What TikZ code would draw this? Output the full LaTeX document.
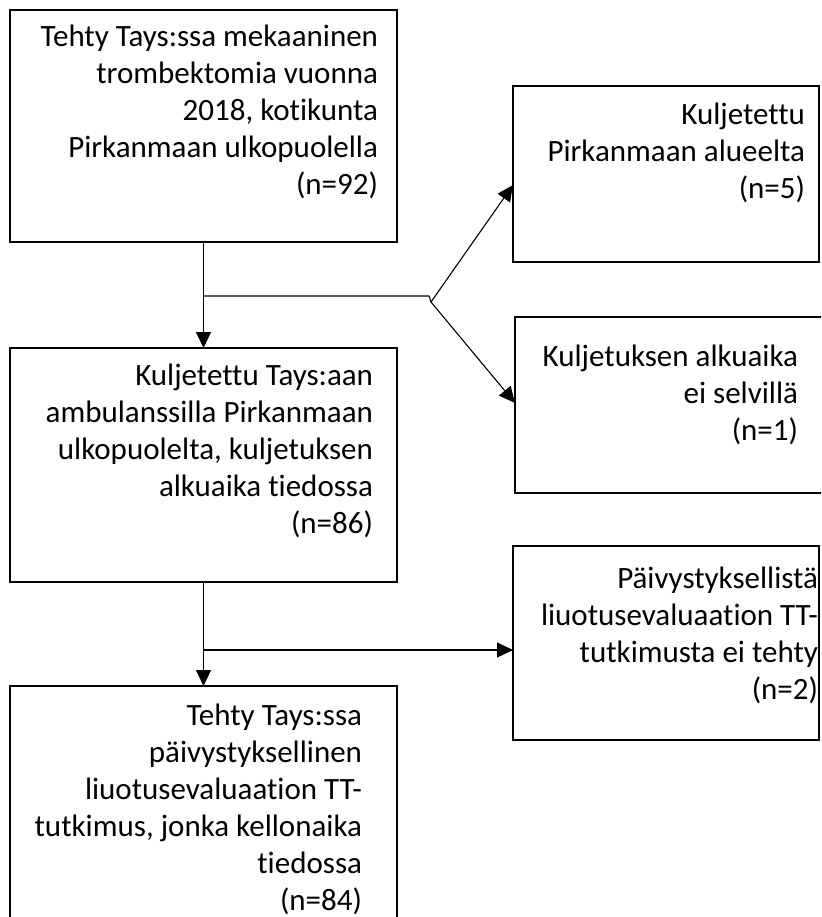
\documentclass[tikz,border=0pt]{standalone}
\usepackage{fontspec}
\setmainfont{Carlito}[Ligatures=NoCommon]
\usetikzlibrary{arrows.meta,positioning}
\tikzset{
  flowbox/.style={draw=black, line width=2.5pt, rectangle, inner sep=0pt, outer sep=0pt},
  flowtext/.style={inner sep=0pt, outer sep=0pt, align=right, anchor=north east,
    font=\fontsize{31}{37}\selectfont},
  conn/.style={line width=1.1pt, -{Triangle[length=16pt,width=15pt]}},
}
\newcommand{\firstline}{\rule{0pt}{25pt}}

\begin{document}
\begin{tikzpicture}[x=1pt,y=-1pt]
    \useasboundingbox (0,0) rectangle (821,917);
    \clip (0,0) rectangle (821,917);
    % left column
    \node[flowbox, minimum width=387pt, minimum height=232pt] (incl) at (203.5,126) {};
    \node[flowbox, minimum width=387pt, minimum height=234pt] (amb) at (203.5,465) {};
    \node[flowbox, minimum width=387pt, minimum height=250pt] (ct) at (203.5,811) {};
    % right column
    \node[flowbox, minimum width=306pt, minimum height=176pt] (local) at (666,174) {};
    \node[flowbox, minimum width=315pt, minimum height=176pt] (notime) at (672.5,405) {};
    \node[flowbox, minimum width=306pt, minimum height=194pt] (noct) at (666,643) {};

    \node[flowtext] (incltext) at ([shift={(-19,12)}]incl.north east)
      {\firstline Tehty Tays:ssa mekaaninen\\trombektomia vuonna\\2018, kotikunta\\Pirkanmaan ulkopuolella\\(n=92)};
    \node[flowtext] (ambtext) at ([shift={(-24,12)}]amb.north east)
      {\firstline Kuljetettu Tays:aan\\ambulanssilla Pirkanmaan\\ulkopuolelta, kuljetuksen\\alkuaika tiedossa\\(n=86)};
    \node[flowtext] (cttext) at ([shift={(-35,14)}]ct.north east)
      {\firstline Tehty Tays:ssa\\päivystyksellinen\\liuotusevaluaation TT-\\tutkimus, jonka kellonaika\\tiedossa\\(n=84)};
    \node[flowtext] (localtext) at ([shift={(-14,14)}]local.north east)
      {\firstline Kuljetettu\\Pirkanmaan alueelta\\(n=5)};
    \node[flowtext] (notimetext) at ([shift={(-32,24)}]notime.north east)
      {\firstline Kuljetuksen alkuaika\\ei selvillä\\(n=1)};
    \node[flowtext] (nocttext) at ([shift={(-1,17)}]noct.north east)
      {\firstline Päivystyksellistä\\liuotusevaluaation TT-\\tutkimusta ei tehty\\(n=2)};

    % connectors
    \draw[conn] (incl.south) -- (amb.north);
    \coordinate (split1) at (203.5,296);
    \coordinate (fork) at (429,296);
    \coordinate (forktip) at (431,302);
    \draw[line width=1.1pt] (split1) -- (fork) -- (forktip);
    \draw[conn] (forktip) -- ([yshift=-11pt]local.west);
    \draw[conn] (forktip) -- ([yshift=2pt]notime.west);

    \draw[conn] (amb.south) -- (ct.north);
    \coordinate (split2) at (203.5,650);
    \draw[conn] (split2) -- (split2 -| noct.west);
\end{tikzpicture}
\end{document}
